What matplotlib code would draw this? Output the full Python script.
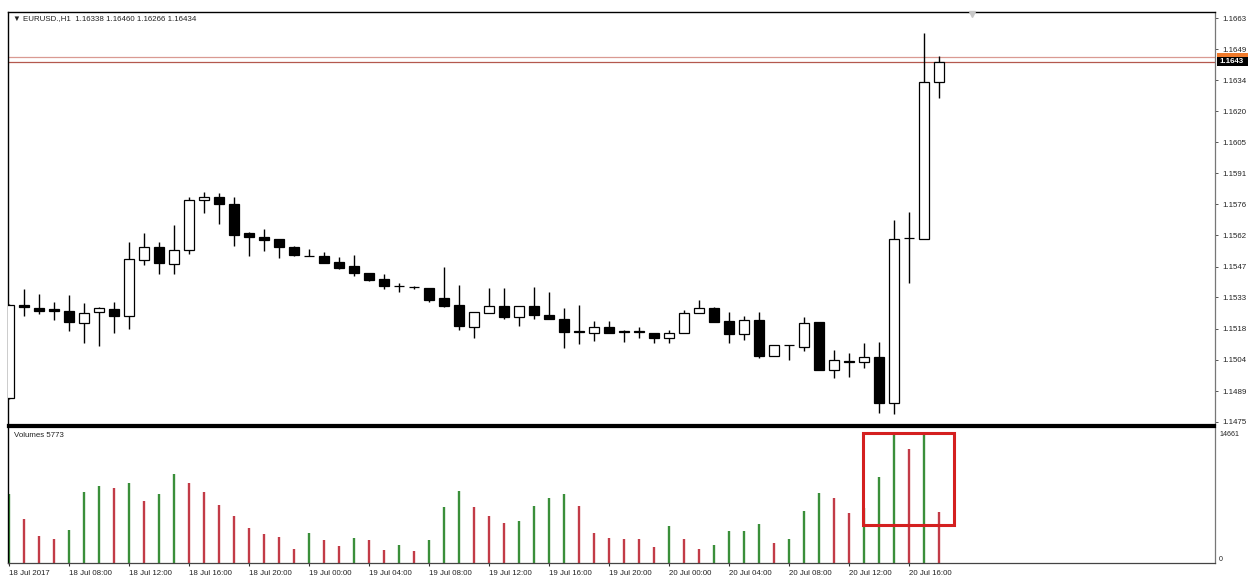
import matplotlib
matplotlib.use("Agg")
import matplotlib.pyplot as plt
from matplotlib.patches import Rectangle
import matplotlib.transforms as mtransforms

plt.rcParams['font.family'] = ['Liberation Sans', 'DejaVu Sans']

# ---------------- data ----------------
title_text = "\u25bc EURUSD.,H1  1.16338 1.16460 1.16266 1.16434"
volume_title = "Volumes 5773"

opens = [1.14867, 1.15300, 1.15285, 1.15280, 1.15272, 1.15215, 1.15266, 1.15282, 1.15249, 1.15510,
         1.15569, 1.15491, 1.15556, 1.15789, 1.15802, 1.15771, 1.15634, 1.15618, 1.15606, 1.15569,
         1.15529, 1.15529, 1.15502, 1.15481, 1.15448, 1.15422, 1.15389, 1.15385, 1.15380, 1.15332,
         1.15298, 1.15197, 1.15264, 1.15295, 1.15246, 1.15295, 1.15254, 1.15235, 1.15177, 1.15171,
         1.15199, 1.15177, 1.15177, 1.15171, 1.15145, 1.15171, 1.15264, 1.15285, 1.15226, 1.15164,
         1.15230, 1.15063, 1.15115, 1.15106, 1.15220, 1.14998, 1.15037, 1.15033, 1.15059, 1.14845,
         1.15612, 1.15609, 1.16338]
highs = [1.15305, 1.15373, 1.15351, 1.15316, 1.15347, 1.15308, 1.15292, 1.15316, 1.15595, 1.15637,
         1.15595, 1.15673, 1.15805, 1.15828, 1.15820, 1.15805, 1.15642, 1.15652, 1.15606, 1.15575,
         1.15560, 1.15548, 1.15525, 1.15533, 1.15450, 1.15446, 1.15403, 1.15390, 1.15380, 1.15479,
         1.15393, 1.15269, 1.15380, 1.15380, 1.15295, 1.15383, 1.15362, 1.15285, 1.15300, 1.15227,
         1.15227, 1.15184, 1.15197, 1.15171, 1.15184, 1.15277, 1.15323, 1.15289, 1.15269, 1.15249,
         1.15269, 1.15114, 1.15115, 1.15246, 1.15223, 1.15091, 1.15077, 1.15122, 1.15129, 1.15698,
         1.15735, 1.16569, 1.16460]
lows = [1.14860, 1.15249, 1.15257, 1.15230, 1.15180, 1.15125, 1.15109, 1.15168, 1.15187, 1.15486,
        1.15445, 1.15445, 1.15538, 1.15728, 1.15678, 1.15575, 1.15529, 1.15553, 1.15518, 1.15529,
        1.15529, 1.15495, 1.15467, 1.15437, 1.15414, 1.15375, 1.15362, 1.15375, 1.15313, 1.15290,
        1.15184, 1.15145, 1.15264, 1.15234, 1.15202, 1.15234, 1.15234, 1.15098, 1.15118, 1.15134,
        1.15171, 1.15129, 1.15145, 1.15122, 1.15122, 1.15171, 1.15264, 1.15222, 1.15122, 1.15137,
        1.15052, 1.15063, 1.15044, 1.15087, 1.14998, 1.14959, 1.14966, 1.15005, 1.14798, 1.14792,
        1.15401, 1.15609, 1.16266]
closes = [1.15300, 1.15291, 1.15274, 1.15274, 1.15220, 1.15264, 1.15285, 1.15249, 1.15513, 1.15569,
          1.15495, 1.15556, 1.15789, 1.15805, 1.15771, 1.15626, 1.15618, 1.15603, 1.15569, 1.15533,
          1.15529, 1.15498, 1.15471, 1.15448, 1.15417, 1.15388, 1.15388, 1.15383, 1.15324, 1.15295,
          1.15200, 1.15266, 1.15295, 1.15246, 1.15295, 1.15252, 1.15234, 1.15176, 1.15175, 1.15199,
          1.15171, 1.15175, 1.15175, 1.15145, 1.15171, 1.15264, 1.15285, 1.15222, 1.15164, 1.15230,
          1.15060, 1.15114, 1.15113, 1.15218, 1.14998, 1.15044, 1.15035, 1.15056, 1.14845, 1.15609,
          1.15610, 1.16341, 1.16434]
volumes = [7896, 5038, 3083, 2782, 3760, 8122, 8798, 8535, 9099, 7069,
           7896, 10114, 9099, 8084, 6618, 5414, 4023, 3309, 3008, 1579,
           3422, 2632, 1918, 2858, 2632, 1542, 2106, 1429, 2632, 6354,
           8159, 6354, 5414, 4625, 4775, 6542, 7445, 7821, 6505, 3459,
           2895, 2782, 2707, 1880, 4286, 2782, 1579, 2030, 3610, 3650,
           4474, 2294, 2745, 5903, 7971, 7411, 5719, 6300, 9776, 14550,
           12935, 14661, 5773]

time_labels = ["18 Jul 2017", "18 Jul 08:00", "18 Jul 12:00", "18 Jul 16:00", "18 Jul 20:00",
               "19 Jul 00:00", "19 Jul 04:00", "19 Jul 08:00", "19 Jul 12:00", "19 Jul 16:00",
               "19 Jul 20:00", "20 Jul 00:00", "20 Jul 04:00", "20 Jul 08:00", "20 Jul 12:00",
               "20 Jul 16:00"]
time_label_bars = [0, 4, 8, 12, 16, 20, 24, 28, 32, 36, 40, 44, 48, 52, 56, 60]

price_ticks = [1.14756, 1.14899, 1.15045, 1.15189, 1.15335, 1.15479, 1.15624,
               1.15769, 1.15913, 1.16058, 1.16202, 1.16347, 1.16492, 1.16636]
price_tick_labels = ["1.1475", "1.1489", "1.1504", "1.1518", "1.1533", "1.1547", "1.1562",
                     "1.1576", "1.1591", "1.1605", "1.1620", "1.1634", "1.1649", "1.1663"]
bid_price = 1.16434
bid_label = "1.1643"
ask_price = 1.16455
volume_max = 14661

# ---------------- layout ----------------
W, H = 1248, 579
fig = plt.figure(figsize=(W / 100, H / 100), dpi=100)
fig.patch.set_facecolor('white')


def rect(l, t, r, b):
    return [l / W, 1 - b / H, (r - l) / W, (b - t) / H]


axp = fig.add_axes(rect(8.3, 11.7, 1215, 424.5))
axv = fig.add_axes(rect(8.3, 427.0, 1215, 563.3))

XMIN, XMAX = -0.05, 80.4
axw_px = 1215 - 8.3
FS = 5.7
TXT = '#222222'

# ---------------- price panel ----------------
xs = list(range(len(opens)))
axp.vlines(xs, lows, highs, color='black', lw=1.0, zorder=2)
for i in xs:
    o, c = opens[i], closes[i]
    up = c >= o
    axp.bar(i, abs(c - o), bottom=min(o, c), width=0.62,
            facecolor='white' if up else 'black', edgecolor='black',
            linewidth=0.9, zorder=3)

axp.axhline(ask_price, color='#d99a92', lw=0.9, zorder=1)
axp.axhline(bid_price, color='#b4584e', lw=0.9, zorder=1)

axp.set_xlim(XMIN, XMAX)
axp.set_ylim(1.14743, 1.16667)
axp.set_xticks([])
axp.yaxis.tick_right()
axp.set_yticks(price_ticks, labels=price_tick_labels)
axp.tick_params(axis='y', direction='out', length=2.2, width=0.7, pad=3.2,
                labelsize=FS, colors='#555555', labelcolor=TXT)
for side in ['top', 'left']:
    axp.spines[side].set_color('black')
    axp.spines[side].set_linewidth(1.0)
axp.spines['bottom'].set_color('black')
axp.spines['bottom'].set_linewidth(1.6)
axp.spines['right'].set_color('#777777')
axp.spines['right'].set_linewidth(0.9)

# current price markers on the axis (ask tag partly hidden under bid tag)
trans = mtransforms.blended_transform_factory(axp.transAxes, axp.transData)
px_price = (1.16667 - 1.14743) / (424.5 - 11.7)
axp.add_patch(Rectangle((1.0 + 1.5 / axw_px, ask_price - 4 * px_price), 34 / axw_px, 8 * px_price,
                        transform=trans, facecolor='#f07a2a', edgecolor='none',
                        clip_on=False, zorder=5))
axp.add_patch(Rectangle((1.0 + 1.5 / axw_px, bid_price - 4.2 * px_price), 34 / axw_px, 8.4 * px_price,
                        transform=trans, facecolor='black', edgecolor='none',
                        clip_on=False, zorder=6))
axp.text(1.0 + 4 / axw_px, bid_price, bid_label, transform=trans, ha='left', va='center',
         fontsize=FS, color='white', fontweight='bold', clip_on=False, zorder=7)

# chart shift marker
axp.plot([64.2], [1.0 - 2.5 / 412.8], marker='v', color='#c8c8c8', markersize=5,
         transform=mtransforms.blended_transform_factory(axp.transData, axp.transAxes),
         clip_on=False, zorder=4)

fig.text(12.7 / W, 1 - 19 / H, title_text, fontsize=FS, color=TXT, ha='left', va='center')

# ---------------- volume panel ----------------
vcols = []
for i, v in enumerate(volumes):
    if i == 0 or v > volumes[i - 1]:
        vcols.append('#3a8f3a')
    else:
        vcols.append('#c23b47')
axv.vlines(xs, 0, volumes, colors=vcols, lw=1.7, zorder=2)

axv.set_xlim(XMIN, XMAX)
axv.set_ylim(0, 15456)
axv.set_yticks([])
axv.set_xticks(time_label_bars, labels=time_labels)
axv.tick_params(axis='x', direction='out', length=2.5, width=0.8, pad=2.6,
                labelsize=FS, colors='#333333', labelcolor=TXT)
for lab in axv.get_xticklabels():
    lab.set_horizontalalignment('left')
axv.spines['top'].set_color('black')
axv.spines['top'].set_linewidth(1.6)
axv.spines['left'].set_color('black')
axv.spines['left'].set_linewidth(1.0)
axv.spines['bottom'].set_color('#444444')
axv.spines['bottom'].set_linewidth(0.9)
axv.spines['right'].set_color('#777777')
axv.spines['right'].set_linewidth(0.9)

vtrans = mtransforms.blended_transform_factory(axv.transAxes, axv.transData)
axv.text(1.0 + 4 / axw_px, volume_max, str(volume_max), transform=vtrans, ha='left',
         va='center', fontsize=FS - 0.6, color=TXT, clip_on=False)
axv.text(1.0 + 4 / axw_px, 0, "0", transform=vtrans, ha='left',
         va='bottom', fontsize=FS - 0.6, color=TXT, clip_on=False)

fig.text(14 / W, 1 - 435.7 / H, volume_title, fontsize=FS, color=TXT, ha='left', va='center')

# highlight box around the volume spike
box_x0 = 56.93
box_x1 = 63.0
box_y0 = 4343
box_y1 = 14776
axv.add_patch(Rectangle((box_x0, box_y0), box_x1 - box_x0, box_y1 - box_y0, fill=False,
                        edgecolor='#d42020', linewidth=2.2, clip_on=False, zorder=5))

fig.savefig("out.png", dpi=100, facecolor='white')
